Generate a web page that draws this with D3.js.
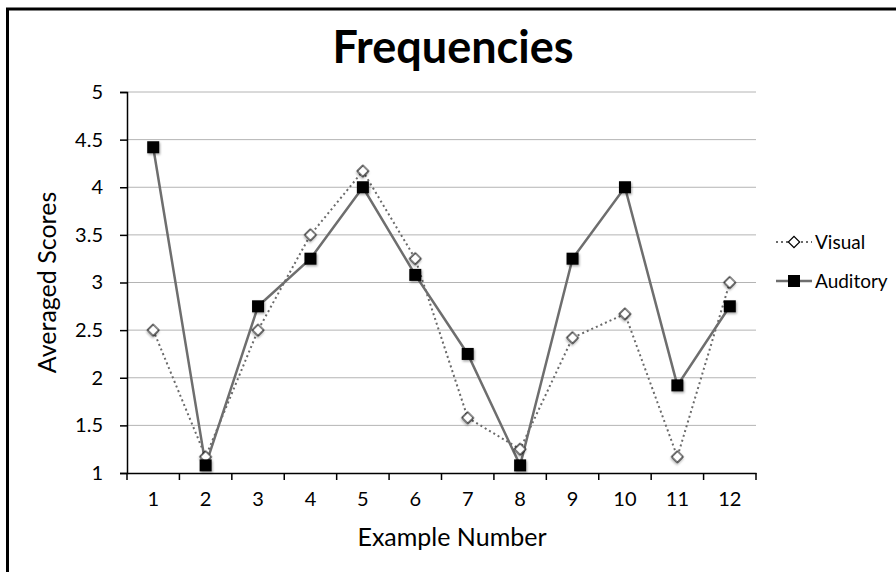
<!DOCTYPE html>
<html>
<head>
<meta charset="utf-8">
<script src="https://d3js.org/d3.v7.min.js"></script>
<style>
  body { margin: 0; background: #fff; }
  text { font-family: Lato, "Open Sans", sans-serif; fill: #000; }
</style>
</head>
<body>
<script>
  var examples = [1, 2, 3, 4, 5, 6, 7, 8, 9, 10, 11, 12];
  var visual = [2.5, 1.17, 2.5, 3.5, 4.17, 3.25, 1.58, 1.25, 2.42, 2.67, 1.17, 3.0];
  var auditory = [4.42, 1.08, 2.75, 3.25, 4.0, 3.08, 2.25, 1.08, 3.25, 4.0, 1.92, 2.75];
  var yTicks = [1, 1.5, 2, 2.5, 3, 3.5, 4, 4.5, 5];

  var W = 896, H = 572;
  var margin = {left: 127, right: 140, top: 92, bottom: 99};

  var svg = d3.select("body").append("svg")
      .attr("width", W).attr("height", H);

  // outer frame (only left and top edge fall inside the picture)
  svg.append("rect")
      .attr("x", 7.5).attr("y", 9)
      .attr("width", W + 20).attr("height", H + 20)
      .attr("fill", "none").attr("stroke", "#000").attr("stroke-width", 3);

  var defs = svg.append("defs");
  var f = defs.append("filter").attr("id", "shadow")
      .attr("x", "-50%").attr("y", "-50%").attr("width", "200%").attr("height", "200%");
  f.append("feDropShadow").attr("dx", 1).attr("dy", 1.5).attr("stdDeviation", 1)
      .attr("flood-color", "#000").attr("flood-opacity", 0.35);

  var x = d3.scaleBand()
      .domain(examples)
      .range([margin.left, W - margin.right]);
  var y = d3.scaleLinear()
      .domain([1, 5])
      .range([H - margin.bottom, margin.top]);

  // gridlines
  svg.append("g").selectAll("line")
      .data(yTicks.slice(1))
      .join("line")
      .attr("x1", margin.left).attr("x2", W - margin.right)
      .attr("y1", d => y(d)).attr("y2", d => y(d))
      .attr("stroke", "#b4b4b4").attr("stroke-width", 1);

  // title
  svg.append("text")
      .attr("x", 453).attr("y", 63)
      .attr("text-anchor", "middle")
      .style("font-size", "45px").style("font-weight", "bold")
      .text("Frequencies");

  // y axis
  var yAxis = svg.append("g")
      .attr("transform", "translate(" + margin.left + ",0)")
      .call(d3.axisLeft(y).tickValues(yTicks).tickSize(7).tickPadding(17)
        .tickFormat(d3.format("")));
  yAxis.selectAll("text").style("font-size", "20px").style("font-family", "Lato, sans-serif");

  // x axis
  var xTickPos = d3.range(0, examples.length + 1).map(i => margin.left + i * x.bandwidth());
  var xAxis = svg.append("g")
      .attr("transform", "translate(0," + (H - margin.bottom) + ")")
      .call(d3.axisBottom(x).tickSize(0).tickPadding(19));
  xAxis.selectAll("text").style("font-size", "20px").style("font-family", "Lato, sans-serif");
  xAxis.selectAll(".bound")
      .data(xTickPos)
      .join("line")
      .attr("class", "bound")
      .attr("x1", d => d).attr("x2", d => d)
      .attr("y1", 0).attr("y2", 7)
      .attr("stroke", "#000").attr("stroke-width", 1.5);

  svg.selectAll(".domain").attr("stroke", "#000").attr("stroke-width", 1.5);
  yAxis.selectAll(".tick line").attr("stroke-width", 1.5);

  // axis titles
  svg.append("text")
      .attr("transform", "translate(56," + y(3) + ") rotate(-90)")
      .attr("text-anchor", "middle")
      .style("font-size", "25px")
      .text("Averaged Scores");
  svg.append("text")
      .attr("x", 452).attr("y", 546)
      .attr("text-anchor", "middle")
      .style("font-size", "25px")
      .text("Example Number");

  var cx = (d, i) => x(examples[i]) + x.bandwidth() / 2;
  var line = d3.line().x((d, i) => cx(d, i)).y(d => y(d));

  // visual series: dotted line, white diamonds
  svg.append("path")
      .datum(visual)
      .attr("d", line)
      .attr("fill", "none").attr("stroke", "#6a6a6a")
      .attr("stroke-width", 2).attr("stroke-dasharray", "2,3");

  // auditory series: solid line, black squares
  svg.append("path")
      .datum(auditory)
      .attr("d", line)
      .attr("fill", "none").attr("stroke", "#6e6e6e")
      .attr("stroke-width", 2.5);

  var diamond = d3.symbol().type(d3.symbolSquare).size(64);

  svg.append("g").selectAll("path")
      .data(visual)
      .join("path")
      .attr("d", diamond)
      .attr("transform", (d, i) => "translate(" + cx(d, i) + "," + y(d) + ") rotate(45)")
      .attr("fill", "#fff").attr("stroke", "#000").attr("stroke-width", 1.2)
      .attr("filter", "url(#shadow)");

  svg.append("g").selectAll("rect")
      .data(auditory)
      .join("rect")
      .attr("x", (d, i) => cx(d, i) - 6).attr("y", d => y(d) - 6)
      .attr("width", 12).attr("height", 12)
      .attr("fill", "#000")
      .attr("filter", "url(#shadow)");

  // legend
  var legend = svg.append("g").attr("transform", "translate(776,0)");
  var ly1 = 242, ly2 = 281;
  legend.append("line")
      .attr("x1", 0).attr("x2", 36).attr("y1", ly1).attr("y2", ly1)
      .attr("stroke", "#6a6a6a").attr("stroke-width", 2).attr("stroke-dasharray", "2,3");
  legend.append("path")
      .attr("d", diamond)
      .attr("transform", "translate(18," + ly1 + ") rotate(45)")
      .attr("fill", "#fff").attr("stroke", "#000").attr("stroke-width", 1.2);
  legend.append("text")
      .attr("x", 39).attr("y", ly1).attr("dy", "0.35em")
      .style("font-size", "19px").text("Visual");

  legend.append("line")
      .attr("x1", 0).attr("x2", 36).attr("y1", ly2).attr("y2", ly2)
      .attr("stroke", "#6e6e6e").attr("stroke-width", 2.5);
  legend.append("rect")
      .attr("x", 12).attr("y", ly2 - 6).attr("width", 12).attr("height", 12)
      .attr("fill", "#000");
  legend.append("text")
      .attr("x", 39).attr("y", ly2).attr("dy", "0.35em")
      .style("font-size", "19px").text("Auditory");
</script>
</body>
</html>
